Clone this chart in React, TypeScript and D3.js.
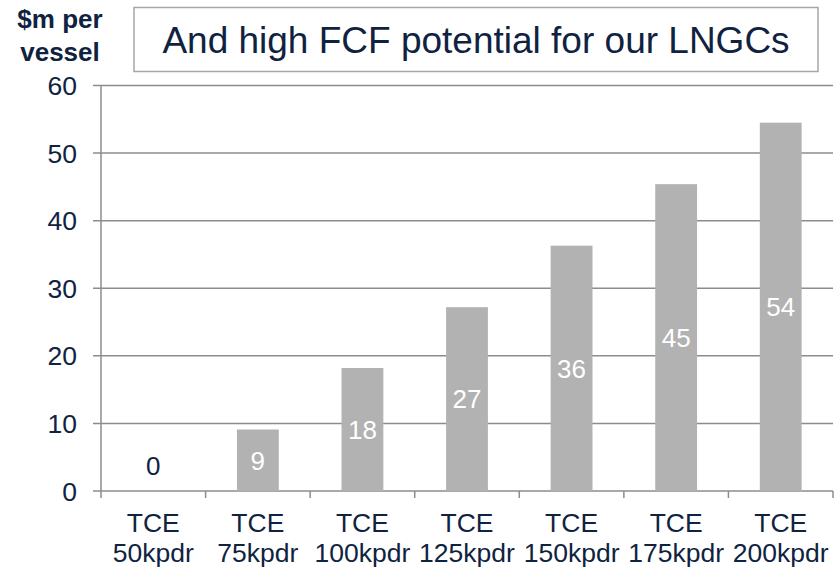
import React from "react";
import * as d3 from "d3";

const categories = ["50kpdr", "75kpdr", "100kpdr", "125kpdr", "150kpdr", "175kpdr", "200kpdr"];
const values = [0, 9.1, 18.2, 27.2, 36.3, 45.4, 54.5];
const labels = ["0", "9", "18", "27", "36", "45", "54"];
const yTicks = [0, 10, 20, 30, 40, 50, 60];
const title = "And high FCF potential for our LNGCs";
const unitLines = ["$m per", "vessel"];

const W = 836, H = 567;
const left = 101, right = 833, top = 85.5, bottom = 491;
const navy = "#0f2341";
const grid = "#8c8c8c";
const barColor = "#b2b2b2";
const font = "'Liberation Sans', Arial, sans-serif";
const fs = 26.5;

export default function App() {
  const x = d3.scaleBand<string>().domain(categories).range([left, right]).paddingInner(0.6).paddingOuter(0.3);
  const xb = d3.scaleBand<string>().domain(categories).range([left, right]);
  const y = d3.scaleLinear().domain([0, 60]).range([bottom, top]);
  const bounds = [...categories.map((c) => xb(c)!), right];
  return (
    <svg width={W} height={H} style={{ position: "absolute", left: 0, top: 0, background: "#fff" }} fontFamily={font}>
      {yTicks.map((t) => (
        <g key={t}>
          <line x1={93} x2={right} y1={y(t)} y2={y(t)} stroke={grid} strokeWidth={1.5} />
          <text x={77} y={y(t)} dy="0.36em" textAnchor="end" fontSize={fs} fill={navy}>{t}</text>
        </g>
      ))}
      <line x1={left} x2={left} y1={top} y2={bottom} stroke={grid} strokeWidth={1.5} />
      {bounds.map((b, i) => (
        <line key={i} x1={b} x2={b} y1={bottom} y2={bottom + 7} stroke={grid} strokeWidth={1.5} />
      ))}
      {categories.map((c, i) => {
        const bx = x(c)!;
        const bw = x.bandwidth();
        const v = values[i];
        const cx = bx + bw / 2;
        const zero = v === 0;
        return (
          <g key={c}>
            {!zero && <rect x={bx} y={y(v)} width={bw} height={bottom - y(v)} fill={barColor} />}
            <text x={cx} y={zero ? y(0) - 25 : (y(v) + bottom) / 2} dy="0.36em" textAnchor="middle" fontSize={26} fill={zero ? navy : "#fff"}>{labels[i]}</text>
            <text x={cx} y={532} textAnchor="middle" fontSize={fs} fill={navy}>TCE</text>
            <text x={cx} y={562} textAnchor="middle" fontSize={fs} fill={navy}>{c}</text>
          </g>
        );
      })}
      <rect x={134} y={7.5} width={684} height={64} fill="#fff" stroke="#a6a6a6" strokeWidth={1.5} />
      <text x={476} y={53} textAnchor="middle" fontSize={37} fill={navy}>{title}</text>
      {unitLines.map((l, i) => (
        <text key={l} x={60} y={28 + i * 33} textAnchor="middle" fontSize={26} fontWeight="bold" fill={navy}>{l}</text>
      ))}
    </svg>
  );
}
